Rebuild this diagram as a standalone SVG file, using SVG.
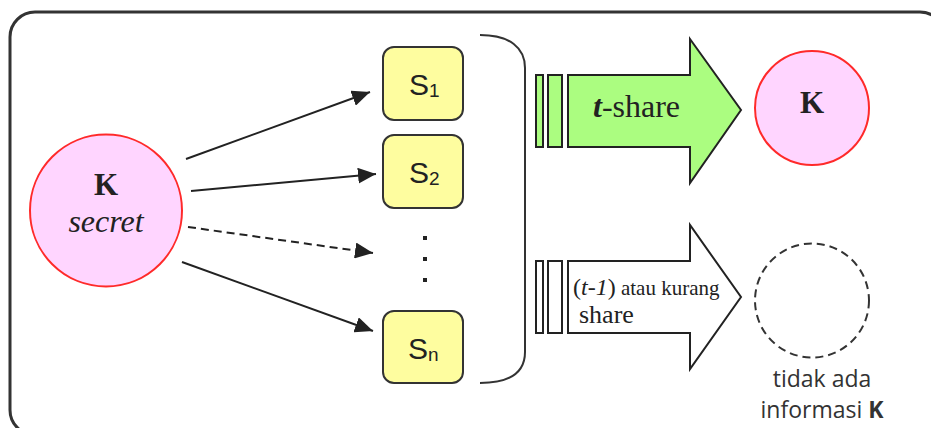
<svg xmlns="http://www.w3.org/2000/svg" width="931" height="428" viewBox="0 0 931 428">
  <defs>
    <marker id="head" viewBox="0 0 18 16" refX="18" refY="8" markerWidth="18" markerHeight="16" orient="auto" markerUnits="userSpaceOnUse">
      <path d="M0,0 L18,8 L0,16 Z" fill="#222"/>
    </marker>
  </defs>
  <style>
    .frame { fill: #fff; stroke: #333; stroke-width: 3; }
    .secret { fill: #ffd5ff; stroke: #ff2a2a; stroke-width: 2; }
    .share { fill: #fefd9f; stroke: #333; stroke-width: 2; }
    .edge { stroke: #222; stroke-width: 2; fill: none; marker-end: url(#head); }
    .dash { stroke-dasharray: 8 5; }
    .bar { stroke: #222; stroke-width: 2; }
    .green { fill: #abfd80; }
    .plain { fill: #fff; }
    .serif { font-family: "Liberation Serif", "Times New Roman", serif; fill: #222; }
    .sans { font-family: "Liberation Sans", Arial, sans-serif; fill: #222; }
    .label { font-family: "Open Sans", "Noto Sans", sans-serif; fill: #333; }
  </style>

  <!-- outer frame -->
  <rect class="frame" x="10" y="12" width="935" height="423" rx="25"/>

  <!-- secret K -->
  <g id="secret">
    <circle class="secret" cx="106" cy="210.5" r="76"/>
    <text class="serif" x="106" y="195" font-size="31" font-weight="bold" text-anchor="middle">K</text>
    <text class="serif" x="106" y="232" font-size="32" font-style="italic" text-anchor="middle">secret</text>
  </g>

  <!-- connectors to the shares -->
  <g id="connectors">
    <line class="edge" x1="186" y1="159" x2="370" y2="92"/>
    <line class="edge" x1="191" y1="191" x2="376" y2="174"/>
    <line class="edge dash" x1="188" y1="227" x2="373" y2="253"/>
    <line class="edge" x1="182" y1="262" x2="373" y2="331"/>
  </g>

  <!-- shares -->
  <g id="s1">
    <rect class="share" x="383" y="47" width="80" height="73" rx="11"/>
    <text class="sans" x="409" y="95" font-size="30">S<tspan font-size="19" dy="2">1</tspan></text>
  </g>
  <g id="s2">
    <rect class="share" x="383" y="135" width="80" height="73" rx="11"/>
    <text class="sans" x="409" y="183" font-size="30">S<tspan font-size="19" dy="2">2</tspan></text>
  </g>
  <g id="dots">
    <rect x="423" y="236" width="4" height="4" fill="#222"/>
    <rect x="423" y="257" width="4" height="4" fill="#222"/>
    <rect x="423" y="278" width="4" height="4" fill="#222"/>
  </g>
  <g id="sn">
    <rect class="share" x="383" y="311" width="80" height="72" rx="11"/>
    <text class="sans" x="408" y="359" font-size="30">S<tspan font-size="19" dy="2">n</tspan></text>
  </g>

  <!-- brace collecting the shares -->
  <g id="brace">
    <path d="M480,35 C510,35 525,48 525,68 L525,352 C525,372 510,383 480,383" fill="none" stroke="#333" stroke-width="2"/>
  </g>

  <!-- t shares: reconstruct -->
  <g id="t-share">
    <rect class="bar green" x="536" y="75" width="7" height="72"/>
    <rect class="bar green" x="548" y="75" width="14" height="72"/>
    <path class="bar green" d="M568,75 L690,75 L690,39 L741,110 L690,183 L690,147 L568,147 Z"/>
    <text class="serif" x="593" y="117" font-size="32"><tspan font-weight="bold" font-style="italic">t</tspan>-share</text>
  </g>

  <!-- fewer shares: nothing learned -->
  <g id="few-share">
    <rect class="bar plain" x="536" y="261" width="7" height="72"/>
    <rect class="bar plain" x="548" y="261" width="14" height="72"/>
    <path class="bar plain" d="M568,261 L690,261 L690,225 L741,297 L690,369 L690,333 L568,333 Z"/>
    <text class="serif" x="573" y="295" font-size="24">(<tspan font-style="italic">t-1</tspan>)<tspan font-size="21"> atau kurang</tspan></text>
    <text class="serif" x="579" y="323" font-size="26">share</text>
  </g>

  <!-- recovered K -->
  <g id="recovered">
    <circle class="secret" cx="812" cy="108" r="57"/>
    <text class="serif" x="812" y="113" font-size="31" font-weight="bold" text-anchor="middle">K</text>
  </g>

  <!-- no information -->
  <g id="unknown">
    <circle cx="812" cy="300.5" r="57" fill="none" stroke="#333" stroke-width="2" stroke-dasharray="8 5"/>
    <text class="label" x="822" y="387" font-size="23" text-anchor="middle">tidak ada</text>
    <text class="label" x="822" y="418" font-size="23" text-anchor="middle">informasi <tspan font-weight="bold">K</tspan></text>
  </g>
</svg>
